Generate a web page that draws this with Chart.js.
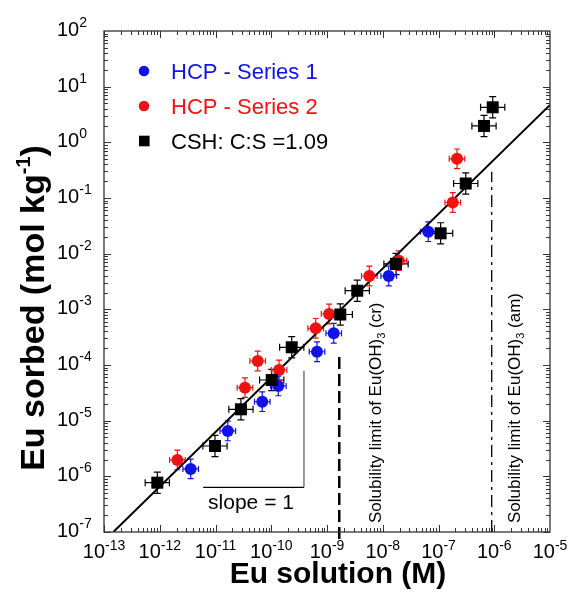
<!DOCTYPE html>
<html>
<head>
<meta charset="utf-8">
<script src="https://cdn.jsdelivr.net/npm/chart.js@4.4.0/dist/chart.umd.min.js"></script>
<style>
  html, body { margin: 0; padding: 0; background: #fff; }
  canvas { display: block; }
</style>
</head>
<body>
<canvas id="sorptionChart" width="571" height="595"></canvas>
<script>
// HCP - Series 1 (blue): Eu in solution (M) vs Eu sorbed (mol/kg)
const hcp1X = [3.59e-12, 1.66e-11, 6.9e-11, 1.34e-10, 6.62e-10, 1.32e-9, 1.28e-8, 6.56e-8];
const hcp1Y = [1.36e-6, 6.53e-6, 2.19e-5, 4.2e-5, 1.73e-4, 3.72e-4, 3.97e-3, 2.48e-2];

// HCP - Series 2 (red)
const hcp2X = [2.07e-12, 3.38e-11, 5.71e-11, 1.38e-10, 6.27e-10, 1.09e-9, 5.74e-9, 1.95e-8, 1.8e-7, 2.15e-7];
const hcp2Y = [1.97e-6, 3.92e-5, 1.18e-4, 8.13e-5, 4.56e-4, 8.24e-4, 3.97e-3, 7.48e-3, 8.3e-2, 0.506];

// CSH, C:S = 1.09 (black squares)
const cshX = [9.04e-13, 9.79e-12, 2.86e-11, 1.02e-10, 2.33e-10, 1.73e-9, 3.49e-9, 1.73e-8, 1.09e-7, 3.08e-7, 6.55e-7, 9.38e-7];
const cshY = [7.69e-7, 3.51e-6, 1.6e-5, 5.38e-5, 2.08e-4, 8.07e-4, 2.16e-3, 6.53e-3, 2.32e-2, 0.182, 1.97, 4.26];

// multiplicative error factors (x, y) per series
const hcpErr = [1.38, 1.5];
const cshErr = [1.65, 1.55];

// fitted isotherm end points
const fitX = [1.47e-13, 1e-5];
const fitY = [1e-7, 4.7];

// slope = 1 guide
const slopeX = [6.0e-12, 3.86e-10];
const slopeY = [6.35e-7, 7.8e-5];

// solubility limits of Eu(OH)3
const limCrX = 1.66e-9, limCrY = [7.5e-8, 1.64e-4];
const limAmX = 9.0e-7, limAmY = [1e-7, 0.297];

// axis decades
const xDecades = [-13, -12, -11, -10, -9, -8, -7, -6, -5];
const yDecades = [-7, -6, -5, -4, -3, -2, -1, 0, 1, 2];

const BLUE = '#1212e8';
const RED = '#f01212';
const FONT = 'Arial, "Liberation Sans", sans-serif';

const pts = (xs, ys) => xs.map((x, i) => ({ x: x, y: ys[i] }));

// draw a row of text pieces (for superscripts / subscripts)
function drawRuns(ctx, runs, x, y, align) {
  let w = 0;
  runs.forEach(r => { ctx.font = r.font; r.w = ctx.measureText(r.text).width; w += r.w; });
  let cx = align === 'center' ? x - w / 2 : (align === 'right' ? x - w : x);
  ctx.textAlign = 'left';
  ctx.textBaseline = 'alphabetic';
  runs.forEach(r => {
    ctx.font = r.font;
    ctx.fillText(r.text, cx, y + (r.dy || 0));
    cx += r.w;
  });
}

const errorBars = {
  id: 'errorBars',
  beforeDatasetsDraw(chart) {
    const { ctx, scales: { x, y } } = chart;
    ctx.save();
    chart.data.datasets.forEach(ds => {
      if (!ds.err) return;
      ctx.strokeStyle = ds.borderColor;
      ctx.lineWidth = 1.2;
      const cap = ds.capSize;
      ds.data.forEach(p => {
        const px = x.getPixelForValue(p.x), py = y.getPixelForValue(p.y);
        const x1 = x.getPixelForValue(p.x / ds.err[0]), x2 = x.getPixelForValue(p.x * ds.err[0]);
        const y1 = y.getPixelForValue(p.y / ds.err[1]), y2 = y.getPixelForValue(p.y * ds.err[1]);
        ctx.beginPath();
        ctx.moveTo(x1, py); ctx.lineTo(x2, py);
        ctx.moveTo(x1, py - cap); ctx.lineTo(x1, py + cap);
        ctx.moveTo(x2, py - cap); ctx.lineTo(x2, py + cap);
        ctx.moveTo(px, y1); ctx.lineTo(px, y2);
        ctx.moveTo(px - cap, y1); ctx.lineTo(px + cap, y1);
        ctx.moveTo(px - cap, y2); ctx.lineTo(px + cap, y2);
        ctx.stroke();
      });
    });
    ctx.restore();
  }
};

const frame = {
  id: 'frame',
  afterDraw(chart) {
    const { ctx, chartArea: a, scales: { x, y } } = chart;
    ctx.save();
    ctx.strokeStyle = '#333';
    ctx.lineWidth = 1.3;
    ctx.strokeRect(a.left, a.top, a.right - a.left, a.bottom - a.top);

    // inward log ticks on all four sides
    ctx.beginPath();
    for (let e = xDecades[0]; e < xDecades[xDecades.length - 1]; e++) {
      for (let m = 1; m <= 9; m++) {
        const px = Math.round(x.getPixelForValue(m * Math.pow(10, e))) + 0.5;
        const len = m === 1 ? 7 : 4;
        ctx.moveTo(px, a.bottom); ctx.lineTo(px, a.bottom - len);
        ctx.moveTo(px, a.top); ctx.lineTo(px, a.top + len);
      }
    }
    for (let e = yDecades[0]; e < yDecades[yDecades.length - 1]; e++) {
      for (let m = 1; m <= 9; m++) {
        const py = Math.round(y.getPixelForValue(m * Math.pow(10, e))) + 0.5;
        const len = m === 1 ? 7 : 4;
        ctx.moveTo(a.left, py); ctx.lineTo(a.left + len, py);
        ctx.moveTo(a.right, py); ctx.lineTo(a.right - len, py);
      }
    }
    ctx.lineWidth = 1;
    ctx.stroke();

    // tick labels
    ctx.fillStyle = '#000';
    xDecades.forEach(e => {
      const px = x.getPixelForValue(Math.pow(10, e));
      drawRuns(ctx, [
        { text: '10', font: '20px ' + FONT },
        { text: String(e), font: '14px ' + FONT, dy: -8 }
      ], px, a.bottom + 26, 'center');
    });
    yDecades.forEach(e => {
      const py = y.getPixelForValue(Math.pow(10, e));
      drawRuns(ctx, [
        { text: '10', font: '20px ' + FONT },
        { text: String(e), font: '14px ' + FONT, dy: -9 }
      ], 57, py + 5, 'left');
    });

    // axis titles
    drawRuns(ctx, [{ text: 'Eu solution (M)', font: 'bold 30px ' + FONT }], 338, 583, 'center');
    ctx.save();
    ctx.translate(44, 308);
    ctx.rotate(-Math.PI / 2);
    drawRuns(ctx, [
      { text: 'Eu sorbed (mol kg', font: 'bold 34px ' + FONT },
      { text: '-1', font: 'bold 20px ' + FONT, dy: -14 },
      { text: ')', font: 'bold 34px ' + FONT }
    ], 0, 0, 'center');
    ctx.restore();

    // legend
    const rows = [
      { color: BLUE, label: 'HCP - Series 1', cy: 71, shape: 'circle' },
      { color: RED, label: 'HCP - Series 2', cy: 106, shape: 'circle' },
      { color: '#000', label: 'CSH: C:S =1.09', cy: 141, shape: 'rect' }
    ];
    rows.forEach(r => {
      ctx.fillStyle = r.color;
      if (r.shape === 'circle') {
        ctx.beginPath(); ctx.arc(144, r.cy, 5.3, 0, Math.PI * 2); ctx.fill();
      } else {
        ctx.fillRect(139, r.cy - 5.3, 10.6, 10.6);
      }
      drawRuns(ctx, [{ text: r.label, font: '22px ' + FONT }], 171, r.cy + 8, 'left');
    });

    // annotations
    ctx.fillStyle = '#000';
    drawRuns(ctx, [{ text: 'slope = 1', font: '21px ' + FONT }], 251, 509, 'center');
    const limLabel = (phase, bx) => {
      ctx.save();
      ctx.translate(bx, 523);
      ctx.rotate(-Math.PI / 2);
      drawRuns(ctx, [
        { text: 'Solubility limit of Eu(OH)', font: '17px ' + FONT },
        { text: '3', font: '11px ' + FONT, dy: 4 },
        { text: ' (' + phase + ')', font: '17px ' + FONT }
      ], 0, 0, 'left');
      ctx.restore();
    };
    limLabel('cr', 381);
    limLabel('am', 520);
    ctx.restore();
  }
};

new Chart(document.getElementById('sorptionChart'), {
  type: 'scatter',
  data: {
    datasets: [
      {
        label: 'CSH: C:S =1.09',
        data: pts(cshX, cshY),
        pointStyle: 'rect',
        pointRadius: 8.5,
        backgroundColor: '#000',
        borderColor: '#000',
        borderWidth: 0,
        err: cshErr,
        capSize: 3.5,
        order: 1
      },
      {
        label: 'HCP - Series 2',
        data: pts(hcp2X, hcp2Y),
        pointRadius: 6,
        backgroundColor: RED,
        borderColor: RED,
        borderWidth: 0,
        err: hcpErr,
        capSize: 3,
        order: 2
      },
      {
        label: 'HCP - Series 1',
        data: pts(hcp1X, hcp1Y),
        pointRadius: 6,
        backgroundColor: BLUE,
        borderColor: BLUE,
        borderWidth: 0,
        err: hcpErr,
        capSize: 3,
        order: 3
      },
      {
        label: 'fit',
        data: pts(fitX, fitY),
        showLine: true,
        pointRadius: 0,
        borderColor: '#000',
        borderWidth: 2,
        order: 4
      },
      {
        label: 'slope horizontal',
        data: [{ x: slopeX[0], y: slopeY[0] }, { x: slopeX[1], y: slopeY[0] }],
        showLine: true,
        pointRadius: 0,
        borderColor: '#000',
        borderWidth: 1.2,
        order: 5
      },
      {
        label: 'slope vertical',
        data: [{ x: slopeX[1], y: slopeY[0] }, { x: slopeX[1], y: slopeY[1] }],
        showLine: true,
        pointRadius: 0,
        borderColor: '#777',
        borderWidth: 1.5,
        order: 5
      },
      {
        label: 'limit cr',
        data: [{ x: limCrX, y: limCrY[0] }, { x: limCrX, y: limCrY[1] }],
        showLine: true,
        pointRadius: 0,
        borderColor: '#000',
        borderWidth: 2.5,
        borderDash: [12, 5],
        clip: false,
        order: 6
      },
      {
        label: 'limit am',
        data: [{ x: limAmX, y: limAmY[0] }, { x: limAmX, y: limAmY[1] }],
        showLine: true,
        pointRadius: 0,
        borderColor: '#000',
        borderWidth: 1.3,
        borderDash: [12, 5, 3, 5],
        order: 6
      }
    ]
  },
  options: {
    responsive: false,
    animation: false,
    layout: { padding: { left: 104, right: 21, top: 31, bottom: 63 } },
    scales: {
      x: { type: 'logarithmic', min: 1e-13, max: 1e-5, display: false },
      y: { type: 'logarithmic', min: 1e-7, max: 1e2, display: false }
    },
    plugins: {
      legend: { display: false },
      tooltip: { enabled: false }
    }
  },
  plugins: [errorBars, frame]
});
</script>
</body>
</html>
